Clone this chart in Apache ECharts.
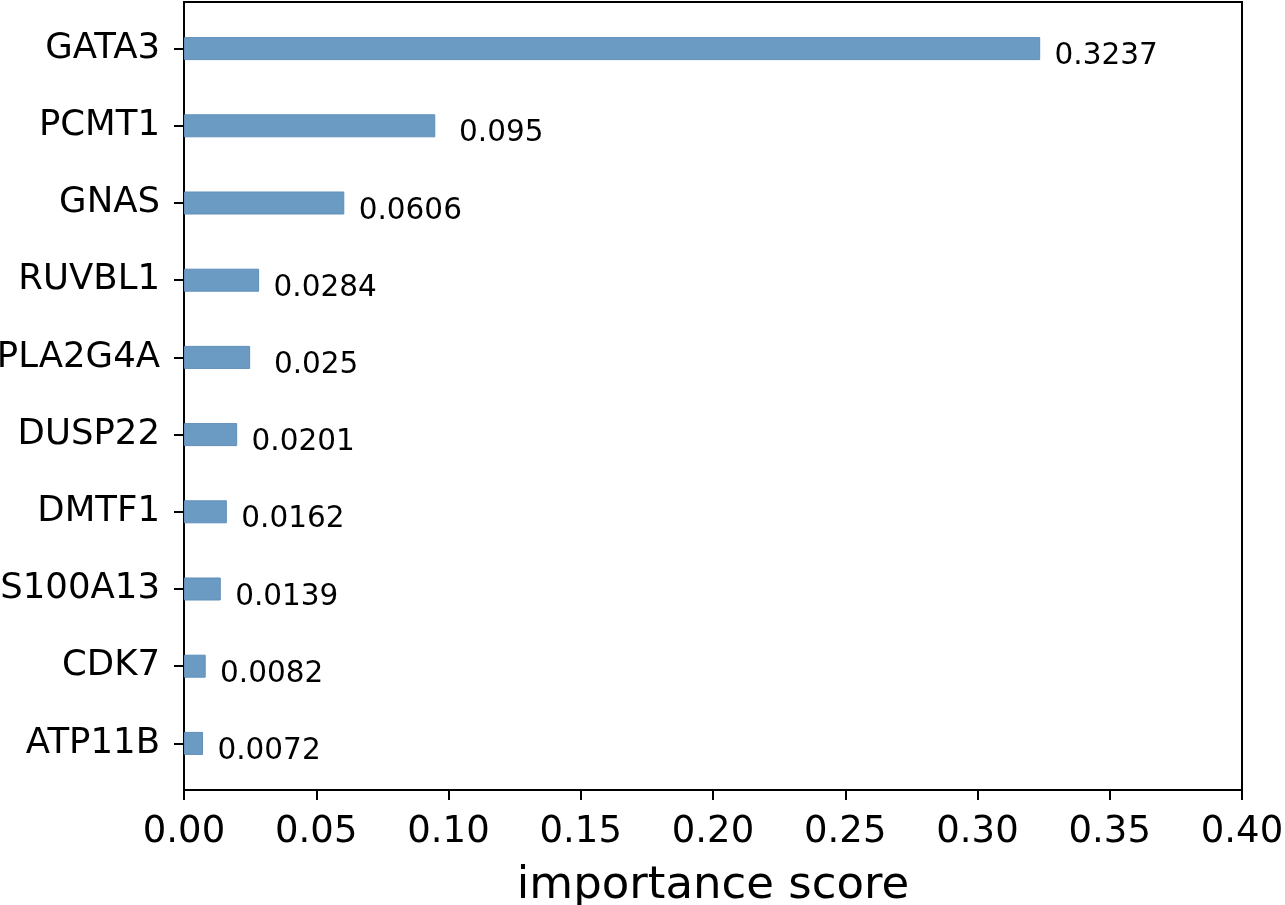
<!DOCTYPE html>
<html>
<head>
<meta charset="utf-8">
<script src="https://cdn.jsdelivr.net/npm/echarts@6/dist/echarts.min.js"></script>
<style>html,body{margin:0;padding:0;background:#fff}#c{width:1285px;height:905px}</style>
</head>
<body>
<div id="c"></div>
<script>
const genes = ['GATA3','PCMT1','GNAS','RUVBL1','PLA2G4A','DUSP22','DMTF1','S100A13','CDK7','ATP11B'];
const scores = [0.3237,0.095,0.0606,0.0284,0.025,0.0201,0.0162,0.0139,0.0082,0.0072];
const xTicks = [0,0.05,0.1,0.15,0.2,0.25,0.3,0.35,0.4];

const FONT = 'DejaVu Sans';
const chart = echarts.init(document.getElementById('c'), null, {renderer:'canvas'});
chart.setOption({
  backgroundColor:'#fff',
  animation:false,
  grid:[
    {left:184, right:43, top:2, bottom:115, show:true, borderColor:'#000', borderWidth:2, backgroundColor:'transparent', outerBoundsMode:'none', containLabel:false},
    {left:184, right:43, top:10, height:772, outerBoundsMode:'none', containLabel:false}
  ],
  xAxis:[
    {gridIndex:0, type:'value', min:xTicks[0], max:xTicks[xTicks.length-1], interval:0.05,
     axisLine:{show:true, lineStyle:{color:'#000', width:2}},
     axisTick:{show:true, length:10, lineStyle:{color:'#000', width:2}},
     axisLabel:{fontFamily:FONT, fontSize:37, color:'#000', margin:24, formatter:v=>v.toFixed(2)},
     splitLine:{show:false},
     name:'importance score', nameLocation:'middle', nameGap:74,
     nameTextStyle:{fontFamily:FONT, fontSize:45, color:'#000'}},
    {gridIndex:1, type:'value', min:xTicks[0], max:xTicks[xTicks.length-1], show:false}
  ],
  yAxis:[
    {gridIndex:0, type:'value', min:0, max:1, show:false},
    {gridIndex:1, type:'category', data:genes, inverse:true,
     axisLine:{show:false},
     axisTick:{show:true, alignWithLabel:true, length:10, lineStyle:{color:'#000', width:2}},
     axisLabel:{fontFamily:FONT, fontSize:35.5, color:'#000', margin:24}}
  ],
  series:[{
    type:'bar', xAxisIndex:1, yAxisIndex:1, data:scores, barWidth:23,
    itemStyle:{color:'#6b9bc3', borderColor:'#5f8fba', borderWidth:1},
    label:{show:true, position:'right', distance:0, align:'center', verticalAlign:'middle',
      offset:[66,8], fontFamily:FONT, fontSize:29.5, color:'#000',
      formatter:p=>String(scores[p.dataIndex])}
  }]
});
</script>
</body>
</html>
